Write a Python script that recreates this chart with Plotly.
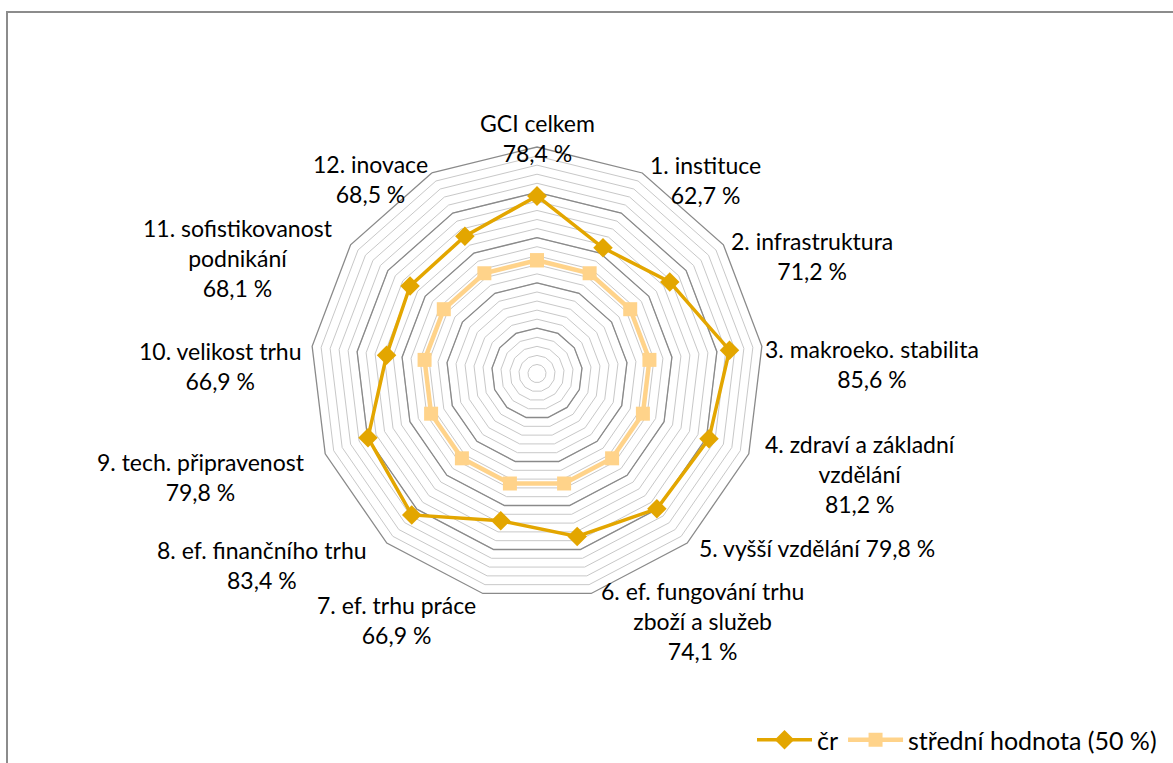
import plotly.graph_objects as go

# category names (line breaks as in the labels)
label_names = [
    "GCI celkem", "1. instituce", "2. infrastruktura", "3. makroeko. stabilita",
    "4. zdraví a základní<br>vzdělání", "5. vyšší vzdělání",
    "6. ef. fungování trhu<br>zboží a služeb", "7. ef. trhu práce",
    "8. ef. finančního trhu", "9. tech. připravenost", "10. velikost trhu",
    "11. sofistikovanost<br>podnikání", "12. inovace",
]
cr_values = [78.4, 62.7, 71.2, 85.6, 81.2, 79.8, 74.1, 66.9, 83.4, 79.8, 66.9, 68.1, 68.5]
median_values = [50, 50, 50, 50, 50, 50, 50, 50, 50, 50, 50, 50, 50]
major_rings = [20, 40, 60, 80]

W, H = 1173, 763
FONT = "Lato"
categories = [n.replace("<br>", " ") for n in label_names]
closed = categories + categories[:1]

fig = go.Figure()

# darker major rings (Excel major gridlines)
for r in major_rings:
    fig.add_trace(go.Scatterpolar(
        r=[r] * len(closed), theta=closed,
        mode="lines", line=dict(color="#8a8a8a", width=1.3),
        showlegend=False, hoverinfo="skip",
    ))

fig.add_trace(go.Scatterpolar(
    r=median_values + median_values[:1], theta=closed,
    mode="lines+markers", name="střední hodnota (50 %)",
    line=dict(color="#FFD38A", width=4.5),
    marker=dict(symbol="square", size=14, color="#FFD38A"),
))
fig.add_trace(go.Scatterpolar(
    r=cr_values + cr_values[:1], theta=closed,
    mode="lines+markers", name="čr",
    line=dict(color="#E3A600", width=3.5),
    marker=dict(symbol="diamond", size=15, color="#E3A600"),
))

# label positions (pixel centres of the text blocks)
label_pos = [
    (537, 139), (705, 181), (812, 258), (872, 366), (860, 477), (817, 552),
    (702, 625), (396, 624), (262, 569), (201, 480), (220, 368), (238, 260), (370, 180),
]
annotations = []
for i, (name, v) in enumerate(zip(label_names, cr_values)):
    val = f"{v:.1f}".replace(".", ",") + " %"
    sep = " " if i == 5 else "<br>"
    x, y = label_pos[i]
    annotations.append(dict(
        text=name + sep + val, x=x / W, y=1 - y / H, xref="paper", yref="paper",
        showarrow=False, align="center", xanchor="center", yanchor="middle",
        font=dict(family=FONT, size=23, color="#000000"),
    ))

cx, cy, R = 537, 376, 228
fig.update_layout(
    width=W, height=H,
    margin=dict(l=0, r=0, t=0, b=0),
    paper_bgcolor="white",
    font=dict(family=FONT, size=23, color="#000000"),
    polar=dict(
        domain=dict(x=[(cx - R) / W, (cx + R) / W], y=[1 - (cy + R) / H, 1 - (cy - R) / H]),
        gridshape="linear",
        bgcolor="white",
        radialaxis=dict(range=[0, 100], dtick=4, showticklabels=False, ticks="",
                        showline=False, gridcolor="#c8c8c8", gridwidth=1.3),
        angularaxis=dict(rotation=90, direction="clockwise", showgrid=False,
                         showticklabels=False, ticks="", showline=True,
                         linecolor="#8a8a8a", linewidth=1.3),
    ),
    legend=dict(orientation="h", traceorder="reversed", x=1162 / W, y=1 - 745 / H,
                xanchor="right", yanchor="middle",
                font=dict(family=FONT, size=25), itemwidth=55, bgcolor="rgba(0,0,0,0)"),
    annotations=annotations,
    shapes=[dict(type="rect", xref="paper", yref="paper", x0=7 / W, x1=1.02, y0=-0.02,
                 y1=1 - 12 / H, line=dict(color="#8c8c8c", width=2))],
)

fig.write_html("out.html", config={"displayModeBar": False},
               post_script="document.body.style.margin='0';")
